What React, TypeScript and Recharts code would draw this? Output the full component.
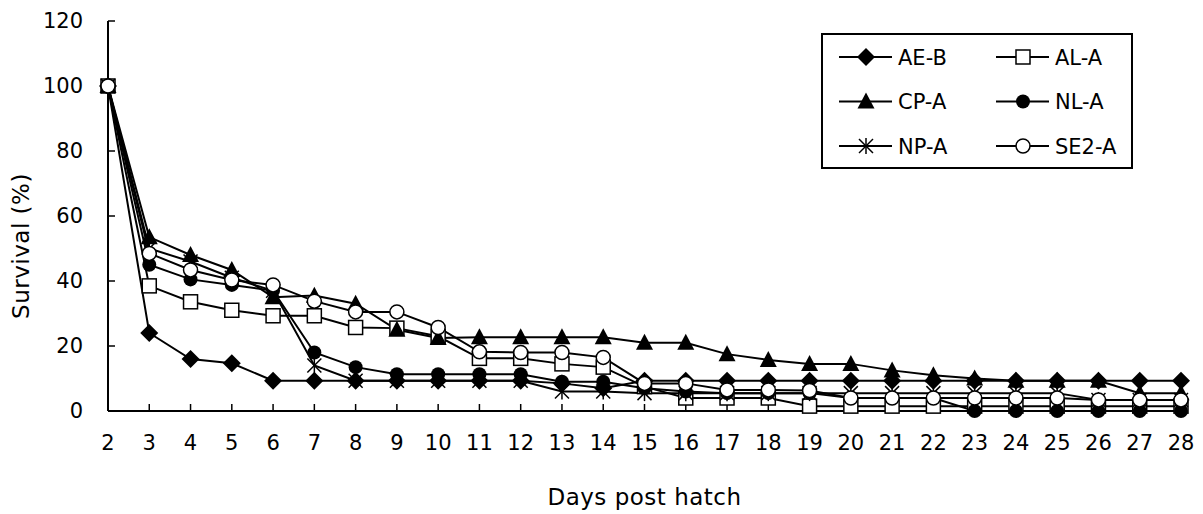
import { Legend, Line, LineChart, XAxis, YAxis } from "recharts";

const days = [2, 3, 4, 5, 6, 7, 8, 9, 10, 11, 12, 13, 14, 15, 16, 17, 18, 19, 20, 21, 22, 23, 24, 25, 26, 27, 28];

const aeB = [100, 24, 16, 14.7, 9.3, 9.3, 9.3, 9.3, 9.3, 9.3, 9.3, 8.5, 7, 9.3, 9.3, 9.3, 9.3, 9.3, 9.3, 9.3, 9.3, 9.3, 9.3, 9.3, 9.3, 9.3, 9.3];
const alA = [100, 38.5, 33.6, 31, 29.3, 29.3, 25.7, 25.5, 23, 16.2, 16.2, 14.5, 13.5, 7.5, 4, 4, 4, 1.5, 1.5, 1.5, 1.5, 1.5, 1.5, 1.5, 1.5, 1.5, 1.5];
const cpA = [100, 53.5, 48, 43.4, 35, 35.5, 33, 25, 22.5, 22.7, 22.7, 22.7, 22.7, 21, 21, 17.5, 15.7, 14.5, 14.5, 12.5, 11, 10, 9.3, 9.3, 9.3, 5.5, 5.5];
const nlA = [100, 45, 40.5, 38.8, 37, 18, 13.5, 11.3, 11.3, 11.3, 11.3, 9, 9, 7, 6, 5.5, 5.5, 5.5, 4, 4, 4, 0, 0, 0, 0, 0, 0];
const npA = [100, 50, 46, 41, 37, 14, 9.3, 9.3, 9.3, 9.3, 9.3, 6, 6, 5.5, 5.5, 5.5, 5.5, 5.5, 5.5, 5.5, 5.5, 5.5, 5.5, 5.5, 3.4, 3.4, 3.4];
const se2A = [100, 48.5, 43.4, 40.3, 38.8, 33.8, 30.5, 30.5, 25.7, 18.2, 18, 18, 16.5, 8.5, 8.5, 6.5, 6.5, 6.3, 4, 4, 4, 4, 4, 4, 3.4, 3.4, 3.4];

const yTicks = [0, 20, 40, 60, 80, 100, 120];

type MarkerKind = "diamond" | "square" | "triangle" | "dot" | "star" | "circle";

const series: { name: string; values: number[]; marker: MarkerKind }[] = [
  { name: "AE-B", values: aeB, marker: "diamond" },
  { name: "AL-A", values: alA, marker: "square" },
  { name: "CP-A", values: cpA, marker: "triangle" },
  { name: "NL-A", values: nlA, marker: "dot" },
  { name: "NP-A", values: npA, marker: "star" },
  { name: "SE2-A", values: se2A, marker: "circle" },
];

const data = days.map((day, i) => {
  const row: Record<string, number> = { day };
  series.forEach((s) => {
    row[s.name] = s.values[i];
  });
  return row;
});

const FONT = "'DejaVu Sans', sans-serif";

function Marker({ kind, cx, cy }: { kind: MarkerKind; cx: number; cy: number }) {
  switch (kind) {
    case "diamond":
      return <polygon points={`${cx},${cy - 9} ${cx + 9},${cy} ${cx},${cy + 9} ${cx - 9},${cy}`} fill="#000" />;
    case "square":
      return <rect x={cx - 7} y={cy - 7} width={14} height={14} fill="#fff" stroke="#000" strokeWidth={1.5} />;
    case "triangle":
      return <polygon points={`${cx},${cy - 9} ${cx + 8.5},${cy + 7} ${cx - 8.5},${cy + 7}`} fill="#000" />;
    case "dot":
      return <circle cx={cx} cy={cy} r={7} fill="#000" />;
    case "star":
      return (
        <g stroke="#000" strokeWidth={1.5}>
          <line x1={cx} y1={cy - 8} x2={cx} y2={cy + 8} />
          <line x1={cx - 7} y1={cy - 7} x2={cx + 7} y2={cy + 7} />
          <line x1={cx - 7} y1={cy + 7} x2={cx + 7} y2={cy - 7} />
        </g>
      );
    default:
      return <circle cx={cx} cy={cy} r={7} fill="#fff" stroke="#000" strokeWidth={1.5} />;
  }
}

function LegendBox() {
  return (
    <svg width={312} height={136}>
      <rect x={1} y={1} width={310} height={134} fill="#fff" stroke="#000" strokeWidth={2} />
      {series.map((s, i) => {
        const col = i % 2;
        const row = Math.floor(i / 2);
        const x0 = 18 + col * 157;
        const cy = 24 + row * 44.5;
        return (
          <g key={s.name}>
            <line x1={x0} y1={cy} x2={x0 + 53} y2={cy} stroke="#000" strokeWidth={2} />
            <Marker kind={s.marker} cx={x0 + 27} cy={cy} />
            <text x={x0 + 59} y={cy} dy="0.36em" fontSize={21} fontFamily={FONT} fill="#000">
              {s.name}
            </text>
          </g>
        );
      })}
    </svg>
  );
}

export default function App() {
  return (
    <div style={{ position: "absolute", left: 0, top: 0, background: "#fff" }}>
      <LineChart width={1203} height={514} data={data} margin={{ top: 21, right: 22, left: 0, bottom: 0 }}>
        <XAxis
          type="number"
          dataKey="day"
          domain={[2, 28]}
          ticks={days}
          interval={0}
          height={103}
          tickSize={-7}
          tickMargin={31}
          axisLine={{ stroke: "#000", strokeWidth: 2 }}
          tickLine={{ stroke: "#000", strokeWidth: 1.5 }}
          tick={{ fill: "#000", fontSize: 21, fontFamily: FONT }}
          label={({ viewBox }: any) => (
            <text
              x={viewBox.x + viewBox.width / 2}
              y={viewBox.y + 94}
              textAnchor="middle"
              fontSize={23}
              letterSpacing={0.5}
              fontFamily={FONT}
              fill="#000"
            >
              Days post hatch
            </text>
          )}
        />
        <YAxis
          domain={[0, 120]}
          ticks={yTicks}
          width={108}
          tickSize={-7}
          tickMargin={32}
          axisLine={{ stroke: "#000", strokeWidth: 2 }}
          tickLine={{ stroke: "#000", strokeWidth: 1.5 }}
          tick={{ fill: "#000", fontSize: 21, fontFamily: FONT }}
          label={({ viewBox }: any) => {
            const cx = viewBox.x + 21;
            const cy = viewBox.y + viewBox.height / 2 + 30;
            return (
              <text
                x={cx}
                y={cy}
                dy="0.36em"
                textAnchor="middle"
                transform={`rotate(-90 ${cx} ${cy})`}
                fontSize={23}
                letterSpacing={0.5}
                fontFamily={FONT}
                fill="#000"
              >
                Survival (%)
              </text>
            );
          }}
        />
        <Legend
          verticalAlign="middle"
          align="center"
          wrapperStyle={{ left: 821, top: 33, width: 312, height: 136 }}
          content={() => <LegendBox />}
        />
        {series.map((s) => (
          <Line
            key={s.name}
            type="linear"
            dataKey={s.name}
            name={s.name}
            stroke="#000"
            strokeWidth={2}
            isAnimationActive={false}
            activeDot={false}
            dot={(p: any) => <Marker key={`${s.name}-${p.index}`} kind={s.marker} cx={p.cx} cy={p.cy} />}
          />
        ))}
      </LineChart>
    </div>
  );
}
